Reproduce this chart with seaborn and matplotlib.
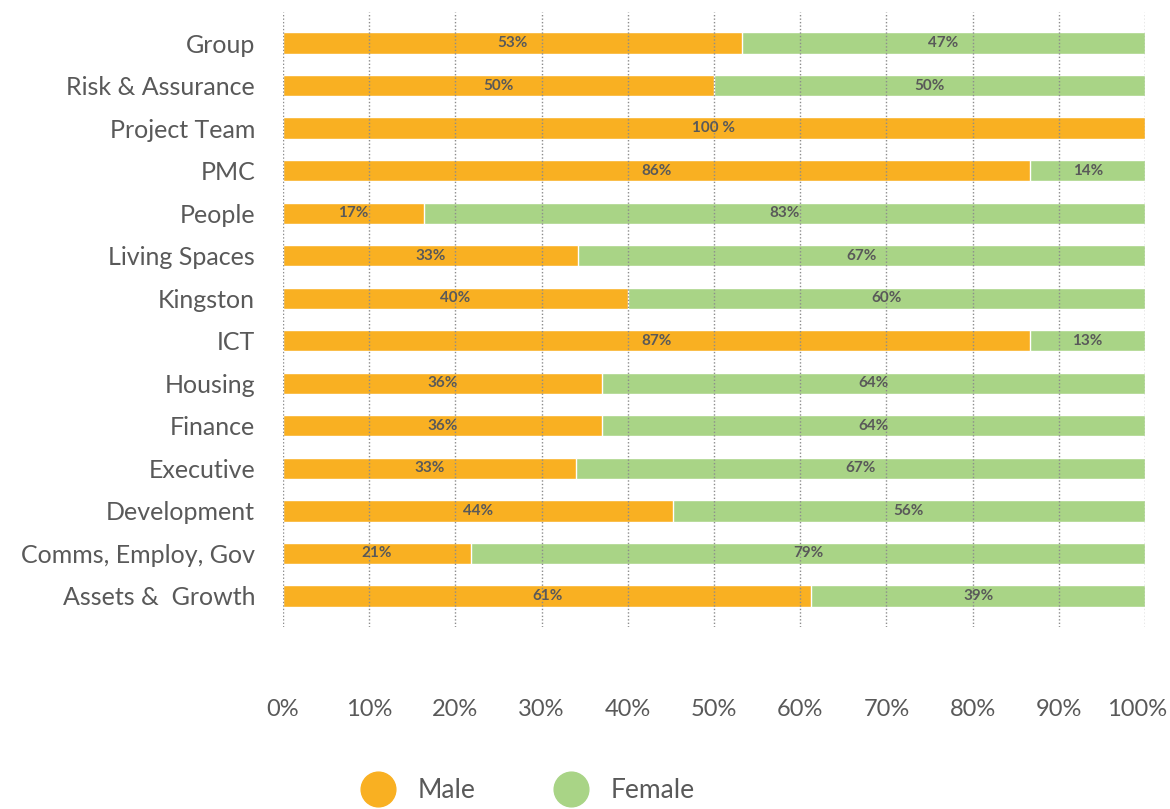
import matplotlib
matplotlib.use("Agg")
import matplotlib.pyplot as plt
import matplotlib.transforms as mtransforms
from matplotlib.lines import Line2D
import seaborn as sns
import pandas as pd

departments = ["Group", "Risk & Assurance", "Project Team", "PMC", "People",
               "Living Spaces", "Kingston", "ICT", "Housing", "Finance",
               "Executive", "Development", "Comms, Employ, Gov", "Assets &  Growth"]
male_share = [53.2, 50.0, 100.0, 86.7, 16.3, 34.2, 40.0, 86.7, 37.0, 37.0,
              34.0, 45.2, 21.8, 61.3]
male_labels = ["53%", "50%", "100 %", "86%", "17%", "33%", "40%", "87%",
               "36%", "36%", "33%", "44%", "21%", "61%"]
female_labels = ["47%", "50%", "", "14%", "83%", "67%", "60%", "13%",
                 "64%", "64%", "67%", "56%", "79%", "39%"]
x_ticks = [0, 10, 20, 30, 40, 50, 60, 70, 80, 90, 100]
series_names = ["Male", "Female"]

MALE_C = "#F9B022"
FEMALE_C = "#A9D486"
TEXT_C = "#595959"

sns.set_style("white")
plt.rcParams["font.family"] = ["Lato", "DejaVu Sans"]

df = pd.DataFrame({"dept": departments, "male": male_share,
                   "total": [100.0] * len(departments)})

fig = plt.figure(figsize=(11.7, 8.09), dpi=100)
ax = fig.add_axes([283 / 1170, 1 - 627 / 809, (1145 - 283) / 1170, (627 - 12) / 809])

sns.barplot(data=df, x="total", y="dept", orient="h", color=FEMALE_C,
            width=0.5, saturation=1, ax=ax, zorder=2)
sns.barplot(data=df, x="male", y="dept", orient="h", color=MALE_C,
            width=0.5, saturation=1, ax=ax, zorder=3)

for i, (m, ml, fl) in enumerate(zip(male_share, male_labels, female_labels)):
    if ml:
        ax.text(m / 2, i, ml, ha="center", va="center", fontsize=11,
                fontweight="bold", color=TEXT_C, zorder=5)
    if fl:
        ax.text((m + 100) / 2, i, fl, ha="center", va="center", fontsize=11,
                fontweight="bold", color=TEXT_C, zorder=5)

for t in x_ticks:
    ax.axvline(t, color="#8C8C8C", linestyle=(0, (1, 1.5)), lw=1, zorder=4)

ax.set_xlim(0, 100)
ax.set_ylim(len(departments) - 1 + 0.73, -0.73)
ax.set_xticks(x_ticks)
ax.set_xticklabels([f"{t}%" for t in x_ticks])
ax.tick_params(axis="x", length=0, pad=52, labelsize=17, labelcolor=TEXT_C)
ax.tick_params(axis="y", length=0, pad=20, labelsize=18, labelcolor=TEXT_C)
last = ax.get_xticklabels()[-1]
last.set_transform(last.get_transform() +
                   mtransforms.ScaledTranslation(-8 / 100, 0, fig.dpi_scale_trans))
ax.set_xlabel("")
ax.set_ylabel("")
for s in ax.spines.values():
    s.set_visible(False)

handles = [Line2D([0], [0], marker="o", linestyle="", markersize=25,
                  markerfacecolor=c, markeredgecolor=c) for c in (MALE_C, FEMALE_C)]
leg = fig.legend(handles, series_names, loc="center", bbox_to_anchor=(0.447, 0.023),
                 ncol=2, frameon=False, fontsize=19, handletextpad=0.5,
                 columnspacing=2.6)
for txt in leg.get_texts():
    txt.set_color(TEXT_C)

fig.savefig("out.png", dpi=100)
